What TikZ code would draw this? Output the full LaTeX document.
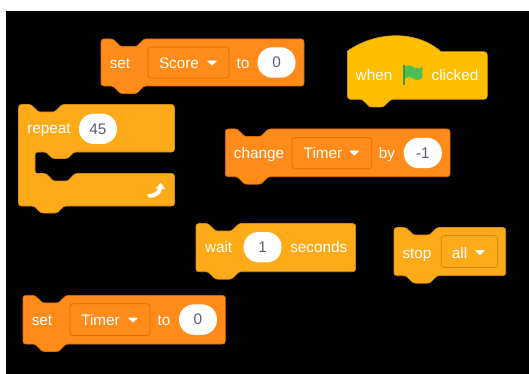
\documentclass[tikz,border=0pt]{standalone}
\usepackage{fontspec}
\setmainfont{Liberation Sans}
\definecolor{darkor}{HTML}{FF8C1A}
\definecolor{darkedge}{HTML}{DB6E00}
\definecolor{lightor}{HTML}{FFAB19}
\definecolor{lightedge}{HTML}{CF8B17}
\definecolor{hat}{HTML}{FFBF00}
\definecolor{hatedge}{HTML}{CC9900}
\definecolor{numtext}{HTML}{575E75}
\definecolor{flagcol}{HTML}{4CBF56}
\definecolor{flagedge}{HTML}{45993D}
\tikzset{
  x=1pt,y=-1pt,
  lbl/.style={inner sep=0pt,text=white,font=\fontsize{15.3}{15.3}\selectfont,anchor=base},
  num/.style={inner sep=0pt,text=numtext,font=\fontsize{15.3}{15.3}\selectfont,anchor=base},
  blockdark/.style={fill=darkor,draw=darkedge,line width=.6pt,line join=round},
  blocklight/.style={fill=lightor,draw=lightedge,line width=.6pt,line join=round},
  dropdark/.style={draw=darkedge,line width=.8pt,fill=darkor,rounded corners=3pt},
  droplight/.style={draw=lightedge,line width=.8pt,fill=lightor,rounded corners=3pt},
  pill/.style={fill=white,draw=none},
  tri/.style={fill=white,draw=white,line width=.6pt,line join=round},
}
% stack block: style, x, top y, right x, bottom y
\newcommand{\stackblock}[5]{%
  \draw[#1] (#2+3,#3) -- (#2+10,#3)
    .. controls (#2+12,#3) and (#2+13,#3+1) .. (#2+15,#3+3)
    -- (#2+18,#3+6) .. controls (#2+19,#3+7) and (#2+20,#3+7.5) .. (#2+22,#3+7.5)
    -- (#2+33,#3+7.5) .. controls (#2+35,#3+7.5) and (#2+36,#3+7) .. (#2+37,#3+6)
    -- (#2+40,#3+3) .. controls (#2+42,#3+1) and (#2+43,#3) .. (#2+45,#3)
    -- (#4-3,#3) .. controls (#4-1,#3) and (#4,#3+1) .. (#4,#3+3)
    -- (#4,#5-3) .. controls (#4,#5-1) and (#4-1,#5) .. (#4-3,#5)
    -- (#2+45,#5) .. controls (#2+43,#5) and (#2+42,#5+1) .. (#2+40,#5+3)
    -- (#2+37,#5+6) .. controls (#2+36,#5+7) and (#2+35,#5+7.5) .. (#2+33,#5+7.5)
    -- (#2+22,#5+7.5) .. controls (#2+20,#5+7.5) and (#2+19,#5+7) .. (#2+18,#5+6)
    -- (#2+15,#5+3) .. controls (#2+13,#5+1) and (#2+12,#5) .. (#2+10,#5)
    -- (#2+3,#5) .. controls (#2+1,#5) and (#2,#5-1) .. (#2,#5-3)
    -- (#2,#3+3) .. controls (#2,#3+1) and (#2+1,#3) .. (#2+3,#3) -- cycle;}
% value pill: name, centre x, centre y, half width, text
\newcommand{\valuepill}[5]{%
  \fill[pill,rounded corners=14.9pt] (#2-#4,#3-15.2) rectangle (#2+#4,#3+15.2);
  \node[num] (#1) at (#2,#3+5.3) {#5};}
% dropdown arrow at centre
\newcommand{\dropcaret}[2]{%
  \fill[tri] (#1-4.4,#2-2) -- (#1+4.4,#2-2) -- (#1,#2+2.2) -- cycle;}
\begin{document}
\begin{tikzpicture}
\useasboundingbox (0,0) rectangle (529,374);
\fill[white] (0,0) rectangle (529,374);
\fill[black] (6,11) rectangle (529,374);

% set Score to 0
\stackblock{blockdark}{101}{39}{304}{86}
\draw[dropdark] (148,47) rectangle (229,78);
\dropcaret{212}{63}
\valuepill{scorezero}{276.5}{62.5}{19}{0}
\node[lbl] (setA) at (120,68.3) {set};
\node[lbl] (scoreT) at (179,68.3) {Score};
\node[lbl] (toA) at (243,68.3) {to};

% when flag clicked
\draw[fill=hat,draw=hatedge,line width=.6pt,line join=round]
  (347.5,51) .. controls (362,41) and (379,35.7) .. (396,35.7)
  .. controls (413,35.7) and (429,41) .. (441,51.7)
  -- (484,51.7) .. controls (486,51.7) and (487.3,53) .. (487.3,55)
  -- (487.3,96) .. controls (487.3,98) and (486,99.3) .. (484,99.3)
  -- (393,99.3) .. controls (391,99.3) and (390,100.3) .. (388,102.3)
  -- (385,105.3) .. controls (384,106.3) and (383,107) .. (381,107)
  -- (372,107) .. controls (370,107) and (369,106.3) .. (368,105.3)
  -- (365,102.3) .. controls (363,100.3) and (362,99.3) .. (360,99.3)
  -- (350.5,99.3) .. controls (348.5,99.3) and (347.5,98) .. (347.5,96) -- cycle;
\node[lbl] (whenT) at (374,81) {when};
\node[lbl] (clickedT) at (455,81) {clicked};
\fill[flagedge] (403.3,65.5) rectangle (405.2,85.5);
\fill[flagcol] (405,66.5)
  .. controls (408,64.5) and (411,65.5) .. (414,67.5)
  .. controls (416.5,69) and (419.5,69) .. (422.3,66.5)
  -- (422.3,78) .. controls (419,80.5) and (416,80.5) .. (413,78.5)
  .. controls (410,76.5) and (407,76.5) .. (405,79) -- cycle;

% repeat 45
\draw[blocklight] (21.5,104.5) -- (29,104.5)
  .. controls (31,104.5) and (32,105.5) .. (34,107.5)
  -- (37,110.5) .. controls (38,111.5) and (39,112) .. (41,112)
  -- (52,112) .. controls (54,112) and (55,111.5) .. (56,110.5)
  -- (59,107.5) .. controls (61,105.5) and (62,104.5) .. (64,104.5)
  -- (171.5,104.5) .. controls (173.5,104.5) and (174.5,105.5) .. (174.5,107.5)
  -- (174.5,149) .. controls (174.5,151) and (173.5,152) .. (171.5,152)
  -- (76,152) .. controls (74,152) and (73,153) .. (71,155)
  -- (69,157) .. controls (68,158) and (67,158.5) .. (65,158.5)
  -- (55,158.5) .. controls (53,158.5) and (52,158) .. (51,157)
  -- (49,155) .. controls (47,153) and (46,152) .. (44,152)
  -- (38,152) .. controls (36,152) and (35,153) .. (35,155)
  -- (35,170.5) .. controls (35,172.5) and (36,173.5) .. (38,173.5)
  -- (44,173.5) .. controls (46,173.5) and (47,174.5) .. (49,176.5)
  -- (51,178.5) .. controls (52,180) and (53,181) .. (55,181)
  -- (66,181) .. controls (68,181) and (69,180) .. (70,178.5)
  -- (72,176.5) .. controls (74,174.5) and (75,173.5) .. (77,173.5)
  -- (171.5,173.5) .. controls (173.5,173.5) and (174.5,174.5) .. (174.5,176.5)
  -- (174.5,203) .. controls (174.5,205) and (173.5,206) .. (171.5,206)
  -- (66,206) .. controls (64,206) and (63,207) .. (61,209)
  -- (59,211) .. controls (58,212) and (57,213) .. (55,213)
  -- (43,213) .. controls (41,213) and (40,212) .. (39,211)
  -- (37,209) .. controls (35,207) and (34,206) .. (32,206)
  -- (21.5,206) .. controls (19.5,206) and (18.5,205) .. (18.5,203)
  -- (18.5,107.5) .. controls (18.5,105.5) and (19.5,104.5) .. (21.5,104.5) -- cycle;
\valuepill{fortyfive}{98}{128.8}{19}{45}
\node[lbl] (repeatT) at (49,134) {repeat};
% loop arrow
\fill[white] (147.3,194.2) .. controls (152,194.5) and (157,192) .. (158.5,188.5)
  -- (155.5,188.8) -- (160.7,183) -- (165.3,189.3) -- (162,189)
  .. controls (161,194) and (156,198.5) .. (148.5,197.5) -- cycle;

% change Timer by -1
\stackblock{blockdark}{225.3}{129}{450}{176.7}
\draw[dropdark] (292,137.5) rectangle (371.7,168.7);
\dropcaret{354.3}{153}
\valuepill{minusone}{422.8}{153}{19}{-1}
\node[lbl] (changeT) at (259,158.5) {change};
\node[lbl] (timerA) at (323,158.5) {Timer};
\node[lbl] (byT) at (387,158.5) {by};

% wait 1 seconds
\stackblock{blocklight}{196}{223.5}{355.6}{271.7}
\valuepill{oneN}{262.6}{247.2}{19}{1}
\node[lbl] (waitT) at (218.6,252.8) {wait};
\node[lbl] (secondsT) at (318.8,252.8) {seconds};

% stop all
\stackblock{blocklight}{394}{227.5}{505.7}{275.7}
\draw[droplight] (441.3,235.6) rectangle (497.6,267.4);
\dropcaret{479.8}{252.5}
\node[lbl] (stopT) at (417,258) {stop};
\node[lbl] (allT) at (459.5,258) {all};

% set Timer to 0
\stackblock{blockdark}{23}{295.4}{225.4}{344}
\draw[dropdark] (70,303.8) rectangle (150,335.5);
\dropcaret{133}{320}
\valuepill{timerzero}{198}{319.6}{19}{0}
\node[lbl] (setB) at (42,325.2) {set};
\node[lbl] (timerB) at (100.5,325.2) {Timer};
\node[lbl] (toB) at (164,325.2) {to};
\end{tikzpicture}
\end{document}
